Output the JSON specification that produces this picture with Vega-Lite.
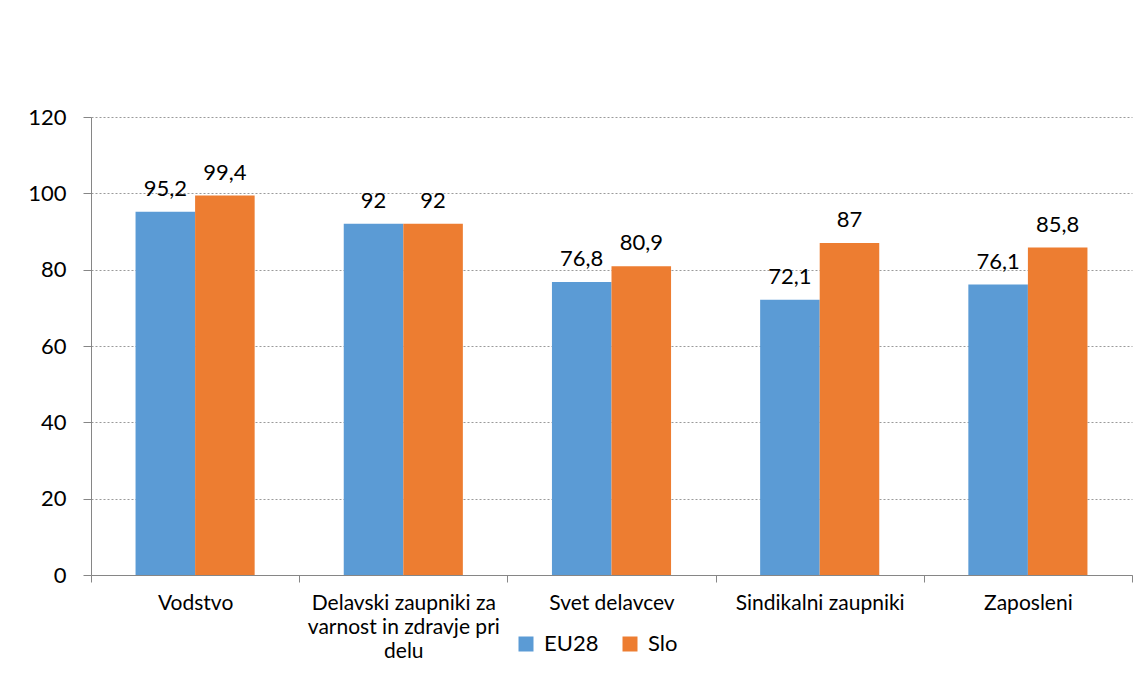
{
  "$schema": "https://vega.github.io/schema/vega-lite/v6.json",
  "autosize": "none",
  "width": 1041,
  "height": 458,
  "padding": {"left": 91, "top": 117, "right": 15, "bottom": 102},
  "background": "white",
  "config": {
    "locale": {"number": {"decimal": ",", "thousands": ".", "grouping": [3], "currency": ["", " €"]}},
    "font": "Lato",
    "view": {"stroke": null}
  },
  "data": {
    "values": [
      {"kategorija": "Vodstvo", "serija": "EU28", "vrednost": 95.2},
      {"kategorija": "Vodstvo", "serija": "Slo", "vrednost": 99.4},
      {"kategorija": "Delavski zaupniki za varnost in zdravje pri delu", "serija": "EU28", "vrednost": 92},
      {"kategorija": "Delavski zaupniki za varnost in zdravje pri delu", "serija": "Slo", "vrednost": 92},
      {"kategorija": "Svet delavcev", "serija": "EU28", "vrednost": 76.8},
      {"kategorija": "Svet delavcev", "serija": "Slo", "vrednost": 80.9},
      {"kategorija": "Sindikalni zaupniki", "serija": "EU28", "vrednost": 72.1},
      {"kategorija": "Sindikalni zaupniki", "serija": "Slo", "vrednost": 87},
      {"kategorija": "Zaposleni", "serija": "EU28", "vrednost": 76.1},
      {"kategorija": "Zaposleni", "serija": "Slo", "vrednost": 85.8}
    ]
  },
  "encoding": {
    "x": {
      "field": "kategorija",
      "type": "nominal",
      "sort": null,
      "scale": {"paddingInner": 0, "paddingOuter": 0},
      "axis": {
        "title": null,
        "labelAngle": 0,
        "labelFont": "Lato",
        "labelFontSize": 21,
        "labelColor": "#000000",
        "labelPadding": 10,
        "labelLimit": 0,
        "labelLineHeight": 24,
        "labelBaseline": "top",
        "labelExpr": "datum.label == 'Delavski zaupniki za varnost in zdravje pri delu' ? ['Delavski zaupniki za', 'varnost in zdravje pri', 'delu'] : datum.label",
        "domainColor": "#868686",
        "domainWidth": 1,
        "tickColor": "#868686",
        "tickSize": 7,
        "tickBand": "extent",
        "grid": false
      }
    },
    "xOffset": {
      "field": "serija",
      "type": "nominal",
      "scale": {"paddingInner": 0, "paddingOuter": 0.748}
    },
    "y": {
      "field": "vrednost",
      "type": "quantitative",
      "scale": {"domain": [0, 120], "nice": false},
      "axis": {
        "title": null,
        "values": [0, 20, 40, 60, 80, 100, 120],
        "labelFont": "Lato",
        "labelFontSize": 22,
        "labelColor": "#000000",
        "labelPadding": 17,
        "domainColor": "#868686",
        "tickColor": "#868686",
        "tickSize": 8,
        "gridColor": "#9a9a9a",
        "gridDash": [2, 2],
        "gridWidth": 1
      }
    }
  },
  "layer": [
    {
      "mark": {"type": "bar"},
      "encoding": {
        "color": {
          "field": "serija",
          "type": "nominal",
          "scale": {"domain": ["EU28", "Slo"], "range": ["#5B9BD5", "#ED7D31"]},
          "legend": {
            "title": null,
            "orient": "none",
            "direction": "horizontal",
            "legendX": 424,
            "legendY": 516,
            "symbolType": "square",
            "symbolSize": 225,
            "symbolStrokeWidth": 0,
            "labelFont": "Lato",
            "labelFontSize": 22,
            "labelColor": "#000000",
            "labelOffset": 7,
            "columnPadding": 20
          }
        }
      }
    },
    {
      "mark": {"type": "text", "baseline": "alphabetic", "dy": -16, "fontSize": 22, "font": "Lato", "color": "#000000"},
      "encoding": {
        "text": {"field": "vrednost", "type": "quantitative", "format": ".1~f"}
      }
    }
  ]
}
